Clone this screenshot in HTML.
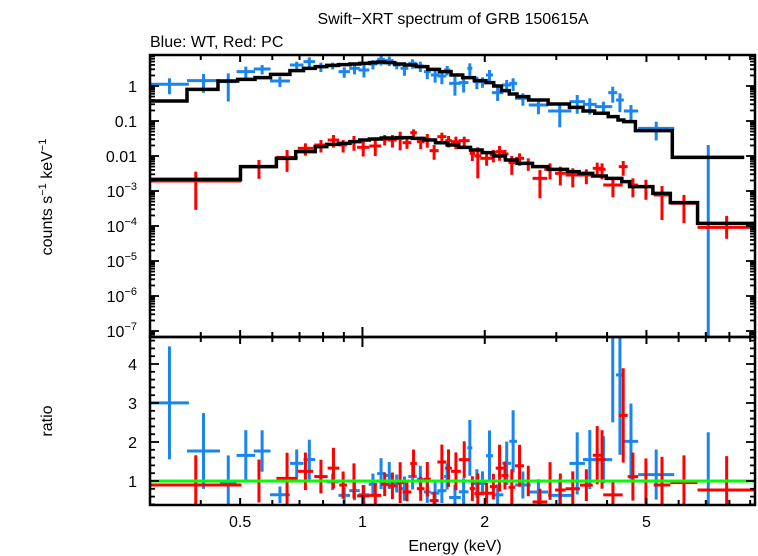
<!DOCTYPE html>
<html><head><meta charset="utf-8">
<style>
html,body{margin:0;padding:0;background:#fff;}
svg{display:block;font-family:"Liberation Sans",Arial,sans-serif;}
</style></head>
<body>
<svg id="chart" width="758" height="556" viewBox="0 0 758 556" xmlns="http://www.w3.org/2000/svg">
<text x="453" y="24" font-size="16" text-anchor="middle">Swift−XRT spectrum of GRB 150615A</text>
<text x="150" y="47" font-size="16">Blue: WT, Red: PC</text>
<text transform="translate(52,197) rotate(-90)" font-size="16" text-anchor="middle">counts s<tspan font-size="11" dy="-6">−1</tspan><tspan dy="6"> keV</tspan><tspan font-size="11" dy="-6">−1</tspan></text>
<text transform="translate(52,421) rotate(-90)" font-size="16" text-anchor="middle">ratio</text>
<text x="455" y="551" font-size="16" text-anchor="middle">Energy (keV)</text>
<g id="marks"></g>
</svg>
<script>
// ---- data ----
const wtElo=[0.300,0.370,0.446,0.490,0.540,0.592,0.663,0.716,0.768,0.817,0.873,0.928,0.978,1.036,1.087,1.136,1.188,1.241,1.297,1.361,1.416,1.473,1.529,1.588,1.634,1.726,1.812,1.877,1.936,2.014,2.082,2.208,2.298,2.375,2.566,2.864,3.232,3.490,3.729,4.027,4.209,4.398,4.770,5.789];
const wtEhi=[0.374,0.446,0.490,0.544,0.594,0.663,0.716,0.765,0.813,0.873,0.932,0.985,1.040,1.087,1.136,1.193,1.241,1.297,1.361,1.416,1.473,1.547,1.609,1.645,1.746,1.824,1.864,1.949,2.014,2.096,2.223,2.323,2.401,2.594,2.864,3.268,3.529,3.770,4.118,4.237,4.398,4.770,5.853,8.70];
const wtVal=[1.12,1.42,1.33,2.57,3.06,1.39,3.98,4.96,3.57,3.81,2.57,3.20,2.87,4.25,5.77,5.29,3.98,3.20,4.44,3.73,2.57,2.06,1.93,2.87,1.19,1.25,3.20,1.33,1.33,2.06,0.645,1.07,1.19,0.445,0.286,0.193,0.357,0.299,0.257,0.645,0.398,0.193,0.0617,0.00916];
const wtTop=[1.66,2.20,2.30,3.57,3.98,1.85,4.96,6.59,4.64,4.64,3.42,4.25,3.98,5.53,7.69,6.89,4.96,4.44,5.77,4.96,3.57,2.87,2.74,3.73,1.85,1.85,4.44,1.85,1.77,2.87,0.916,1.48,1.66,0.617,0.416,0.320,0.553,0.445,0.357,0.957,0.617,0.286,0.0957,0.0206];
const pcElo=[0.300,0.504,0.614,0.693,0.761,0.821,0.877,0.922,0.970,1.040,1.112,1.157,1.214,1.255,1.311,1.361,1.416,1.463,1.529,1.598,1.652,1.726,1.836,1.885,1.949,2.059,2.128,2.198,2.288,2.375,2.498,2.622,2.802,2.979,3.162,3.430,3.688,3.811,3.914,4.274,4.495,4.770,5.209,5.725,6.68];
const pcEhi=[0.504,0.614,0.693,0.756,0.821,0.877,0.916,0.985,1.040,1.112,1.157,1.214,1.263,1.320,1.361,1.422,1.473,1.540,1.609,1.660,1.746,1.836,1.893,1.961,2.096,2.142,2.223,2.288,2.375,2.498,2.622,2.851,2.992,3.162,3.430,3.688,3.879,3.966,4.369,4.495,4.770,5.209,5.725,6.68,9.29];
const pcVal=[0.00193,0.00496,0.00916,0.0166,0.0206,0.0286,0.0206,0.0257,0.0177,0.0193,0.0299,0.0286,0.0320,0.0240,0.0464,0.0257,0.0299,0.0142,0.0357,0.0274,0.0257,0.0274,0.0119,0.0100,0.00858,0.0107,0.0133,0.0114,0.00645,0.00858,0.00617,0.00230,0.00416,0.00320,0.00286,0.00286,0.00445,0.00416,0.00148,0.00496,0.00148,0.00133,0.000769,0.000445,0.0000916];
const pcTop=[0.00357,0.00769,0.0148,0.0230,0.0286,0.0398,0.0286,0.0373,0.0257,0.0286,0.0398,0.0398,0.0495,0.0320,0.0578,0.0357,0.0425,0.0206,0.0464,0.0373,0.0357,0.0357,0.0166,0.0177,0.0119,0.0148,0.0193,0.0150,0.0100,0.0119,0.00858,0.00398,0.00617,0.00496,0.00445,0.00416,0.00645,0.00617,0.00230,0.00720,0.00230,0.00210,0.00139,0.000769,0.000195];
const wtModelEdges=[0.300,0.370,0.441,0.493,0.544,0.594,0.663,0.716,0.765,0.817,0.873,0.932,0.985,1.040,1.087,1.136,1.200,1.268,1.355,1.448,1.547,1.652,1.765,1.885,2.014,2.104,2.198,2.298,2.401,2.566,2.864,3.232,3.490,3.729,4.027,4.256,4.398,4.697,5.789,8.70];
const wtModelVal=[0.373,0.803,1.39,1.55,1.73,2.15,2.74,3.20,3.57,3.89,4.07,4.25,4.44,4.64,4.85,4.64,4.25,3.98,3.57,2.99,2.57,2.06,1.73,1.42,1.25,1.00,0.736,0.590,0.496,0.398,0.306,0.246,0.193,0.166,0.133,0.107,0.0957,0.0530,0.00916];
const pcModelEdges=[0.300,0.501,0.614,0.685,0.765,0.817,0.873,0.932,0.985,1.040,1.112,1.214,1.326,1.416,1.513,1.616,1.726,1.845,1.970,2.104,2.248,2.401,2.622,2.864,3.196,3.414,3.688,3.982,4.349,4.546,5.186,5.725,6.68,9.29];
const pcModelVal=[0.00215,0.00496,0.00858,0.0133,0.0185,0.0215,0.0230,0.0257,0.0286,0.0306,0.0327,0.0334,0.0320,0.0286,0.0240,0.0206,0.0177,0.0148,0.0125,0.0100,0.00769,0.00617,0.00496,0.00416,0.00357,0.00320,0.00268,0.00230,0.00185,0.00133,0.000858,0.000464,0.000119];
const xTickLabels=["0.5","1","2","5"];
const xTickVals=[0.5,1,2,5];
const ratioTicks=[1,2,3,4];

// ---- axes ----
const X0=150,X1=755,EMIN=0.3,EMAX=9.25;
const T0=55,T1=337,B0=337,B1=505;
function xs(e){return X0+(Math.log10(e)-Math.log10(EMIN))/(Math.log10(EMAX)-Math.log10(EMIN))*(X1-X0);}
function ys(v){return 86-35*Math.log10(v);}
function yr(r){return 481-(r-1)*39;}
const NS="http://www.w3.org/2000/svg";
const g=document.getElementById('marks');
function el(tag,attrs,parent){const e=document.createElementNS(NS,tag);for(const k in attrs)e.setAttribute(k,attrs[k]);(parent||g).appendChild(e);return e;}
function line(x1,y1,x2,y2,c,w,p){return el('line',{x1:x1,y1:y1,x2:x2,y2:y2,stroke:c,'stroke-width':w},p);}

const defs=el('defs',{});
const c1=el('clipPath',{id:'ctop'},defs);el('rect',{x:X0,y:T0,width:X1-X0,height:T1-T0},c1);
const c2=el('clipPath',{id:'cbot'},defs);el('rect',{x:X0,y:B0,width:X1-X0,height:B1-B0},c2);
const gt=el('g',{'clip-path':'url(#ctop)'});


const gb=el('g',{'clip-path':'url(#cbot)'});



const BLUE='#1a85ee',RED='#ff0000';
function modelAt(edges,vals,e){for(let i=0;i<vals.length;i++){if(e>=edges[i]&&e<edges[i+1])return vals[i];}return vals[vals.length-1];}
function drawModel(edges,vals,name){
  let d='';
  for(let i=0;i<vals.length;i++){const y=ys(vals[i]);d+=(i===0?'M':'L')+xs(edges[i])+','+y+'L'+xs(edges[i+1])+','+y;}
  const p=el('path',{d:d,fill:'none',stroke:'#000','stroke-width':3.5},gt);
  
  
}
function drawData(elo,ehi,val,top,color,name,medges,mvals){
  for(let i=0;i<val.length;i++){
    const ec=Math.sqrt(elo[i]*ehi[i]);
    const err=top[i]-val[i];
    let lo=val[i]-err;
    if(err>1.2*val[i]) lo=1e-9; else if(lo<=0) lo=val[i]*val[i]/top[i];
    const gp=el('g',{},gt);
    
    
    line(xs(elo[i]),ys(val[i]),xs(ehi[i]),ys(val[i]),color,3,gp);
    line(xs(ec),ys(top[i]),xs(ec),ys(lo),color,3,gp);
    const m=modelAt(medges,mvals,ec);
    const r=val[i]/m,re=err/m;
    const gr=el('g',{},gb);
    
    
    line(xs(elo[i]),yr(r),xs(ehi[i]),yr(r),color,3,gr);
    line(xs(ec),yr(r+re),xs(ec),yr(r-re),color,3,gr);
  }
}
drawData(wtElo,wtEhi,wtVal,wtTop,BLUE,'wt',wtModelEdges,wtModelVal);
drawData(pcElo,pcEhi,pcVal,pcTop,RED,'pc',pcModelEdges,pcModelVal);
drawModel(wtModelEdges,wtModelVal,'wt-model');
drawModel(pcModelEdges,pcModelVal,'pc-model');
const gl=line(X0,yr(1),X1,yr(1),'#00ff00',3,gb);



const fa=el('g',{});


el('rect',{x:X0,y:T0,width:X1-X0,height:T1-T0,fill:'none',stroke:'#000','stroke-width':2.5},fa);
el('rect',{x:X0,y:B0,width:X1-X0,height:B1-B0,fill:'none',stroke:'#000','stroke-width':2.5},fa);
for(let dec=-1;dec<=1;dec++){for(let k=1;k<10;k++){
  const e=k*Math.pow(10,dec); if(e<EMIN||e>EMAX)continue;
  const x=xs(e); const L=(k===1)?10:((k===5||k===2)?7:5);
  [[T0,1],[T1,-1],[B0,1],[B1,-1]].forEach(([y,s])=>line(x,y,x,y+s*L,'#000',2,fa));
}}
for(let dec=-8;dec<=1;dec++){for(let k=1;k<10;k++){
  const v=k*Math.pow(10,dec); const y=ys(v); if(y<T0||y>T1)continue;
  const L=k===1?9:5;
  line(X0,y,X0+L,y,'#000',1.8,fa);line(X1,y,X1-L,y,'#000',1.8,fa);
}}
for(let r=0.4;r<=4.7;r+=0.2){const y=yr(r);const maj=Math.abs(r-Math.round(r))<0.01;const L=maj?9:5;
  line(X0,y,X0+L,y,'#000',1.8,fa);line(X1,y,X1-L,y,'#000',1.8,fa);}
const ylab=[[1,'1'],[0.1,'0.1'],[0.01,'0.01']];
ylab.forEach(([v,t])=>{const tx=el('text',{x:137,y:ys(v)+6,'font-size':16,'text-anchor':'end'},fa);tx.textContent=t;
  
  });
for(let p=3;p<=7;p++){
  const tx=el('text',{x:137,y:ys(Math.pow(10,-p))+6,'font-size':16,'text-anchor':'end'},fa);
  
  
  tx.innerHTML='10<tspan font-size="11" dy="-7">−'+p+'</tspan>';
}
ratioTicks.forEach(r=>{const tx=el('text',{x:137,y:yr(r)+6,'font-size':16,'text-anchor':'end'},fa);tx.textContent=String(r);
  
  });
xTickVals.forEach((v,i)=>{const tx=el('text',{x:xs(v),y:527,'font-size':16,'text-anchor':'middle'},fa);tx.textContent=xTickLabels[i];
  
  });
</script>
</body></html>
